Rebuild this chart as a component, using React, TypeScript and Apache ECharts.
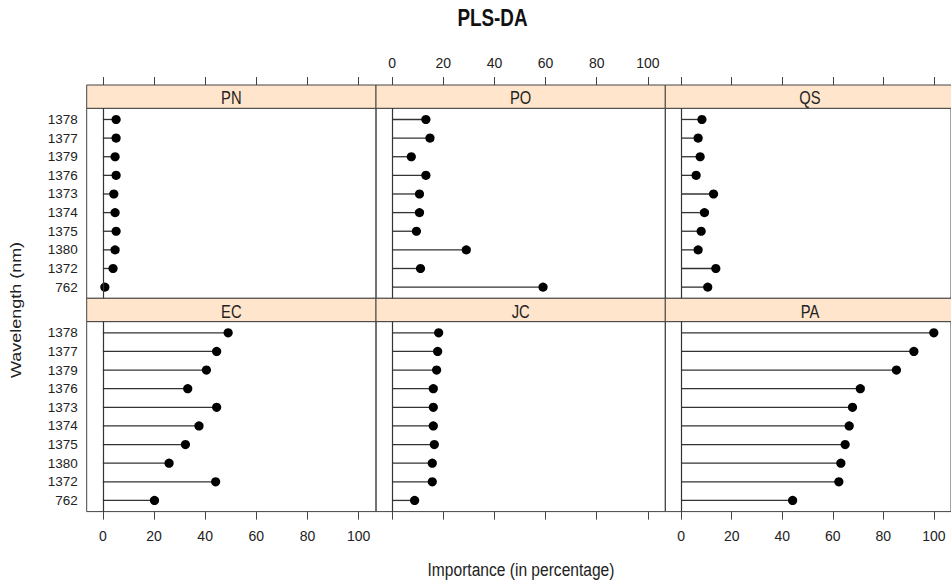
import React, { useEffect, useRef } from "react";
import * as echarts from "echarts";

// Wavelength categories, listed top to bottom as in each panel
const wavelengths = ["1378", "1377", "1379", "1376", "1373", "1374", "1375", "1380", "1372", "762"];

// Importance (%) per class, same order as wavelengths
const pnValues = [5.2, 5.2, 4.8, 5.2, 4.3, 4.8, 5.2, 4.8, 4.0, 0.8];
const poValues = [13.2, 14.8, 7.5, 13.2, 10.7, 10.7, 9.5, 29.0, 11.1, 59.0];
const qsValues = [8.2, 6.7, 7.5, 5.9, 12.8, 9.2, 7.9, 6.7, 13.7, 10.5];
const ecValues = [49.0, 44.5, 40.5, 33.2, 44.5, 37.6, 32.3, 25.9, 44.1, 20.2];
const jcValues = [18.2, 17.8, 17.4, 16.1, 16.1, 16.1, 16.5, 15.7, 15.7, 8.8];
const paValues = [100, 92.1, 85.2, 70.9, 67.8, 66.5, 64.9, 63.2, 62.4, 44.1];

const xTicks = [0, 20, 40, 60, 80, 100];
const yPositions = [1, 2, 3, 4, 5, 6, 7, 8, 9, 10];

const panels = [
  { name: "PN", values: pnValues, row: 0, col: 0 },
  { name: "PO", values: poValues, row: 0, col: 1 },
  { name: "QS", values: qsValues, row: 0, col: 2 },
  { name: "EC", values: ecValues, row: 1, col: 0 },
  { name: "JC", values: jcValues, row: 1, col: 1 },
  { name: "PA", values: paValues, row: 1, col: 2 },
];

const FONT = "'Liberation Sans', Arial, sans-serif";
const TEXT = "#222";
const BORDER = "#444";
const NARROW = 0.82;

const colLeft = [86.7, 376, 665.3];
const colWidth = 289.3;
const stripTop = [85, 298.3];
const stripH = 23.3;
const panelH = 190;

export default function App() {
  const ref = useRef<HTMLDivElement>(null);
  useEffect(() => {
    if (!ref.current) return;
    const chart = echarts.init(ref.current, undefined, { renderer: "svg" });

    const grids: any[] = [];
    const xAxes: any[] = [];
    const yAxes: any[] = [];
    const series: any[] = [];
    const graphics: any[] = [];

    panels.forEach((p, i) => {
      const left = colLeft[p.col];
      const top = stripTop[p.row] + stripH;
      grids.push({
        left,
        top,
        width: colWidth,
        height: panelH,
        show: true,
        borderColor: BORDER,
        borderWidth: 1,
        backgroundColor: "transparent",
        containLabel: false,
      });
      const isTop = p.row === 0;
      const showXLabel = isTop ? p.col === 1 : p.col !== 1;
      xAxes.push({
        type: "value",
        gridIndex: i,
        min: -6.3,
        max: 106.8,
        position: isTop ? "top" : "bottom",
        offset: isTop ? stripH : 0,
        axisLine: { show: false },
        splitLine: { show: false },
        axisTick: {
          show: true,
          length: 8,
          inside: false,
          customValues: xTicks,
          lineStyle: { color: BORDER, width: 1 },
        },
        axisLabel: {
          show: showXLabel,
          customValues: xTicks,
          margin: isTop ? 15 : 17,
          fontSize: 14,
          fontFamily: FONT,
          color: TEXT,
        },
      });
      yAxes.push({
        type: "value",
        gridIndex: i,
        min: 0.4,
        max: 10.6,
        axisLine: { show: false, onZero: false },
        axisTick: { show: false },
        splitLine: { show: false },
        axisLabel: {
          show: p.col === 0,
          customValues: yPositions,
          margin: 9,
          fontSize: 13.5,
          fontFamily: FONT,
          color: TEXT,
          formatter: (v: number) => wavelengths[10 - Math.round(v)],
        },
      });
      series.push({
        type: "custom",
        xAxisIndex: i,
        yAxisIndex: i,
        data: p.values.map((v, k) => [v, 10 - k]),
        encode: { x: 0, y: 1 },
        renderItem: (params: any, api: any) => {
          const v = api.value(0);
          const y = api.value(1);
          const p0 = api.coord([0, y]);
          const p1 = api.coord([v, y]);
          return {
            type: "group",
            children: [
              {
                type: "line",
                shape: { x1: p0[0], y1: p0[1], x2: p1[0], y2: p1[1] },
                style: { stroke: "#333", lineWidth: 1.3 },
              },
              {
                type: "circle",
                shape: { cx: p1[0], cy: p1[1], r: 4.6 },
                style: { fill: "#000" },
              },
            ],
          };
        },
        markLine: {
          silent: true,
          symbol: "none",
          label: { show: false },
          lineStyle: { color: "#333", type: "solid", width: 1.2 },
          data: [{ xAxis: 0 }],
        },
      });
      graphics.push({
        type: "rect",
        shape: { x: left, y: stripTop[p.row], width: colWidth, height: stripH },
        style: { fill: "#FFE5CC", stroke: BORDER, lineWidth: 1 },
        z: 1,
      });
      graphics.push({
        type: "text",
        x: left + colWidth / 2,
        y: stripTop[p.row] + stripH / 2 + 1,
        scaleX: NARROW,
        style: {
          text: p.name,
          fontSize: 18,
          fontFamily: FONT,
          fill: TEXT,
          align: "center",
          verticalAlign: "middle",
        },
        z: 2,
      });
    });

    graphics.push({
      type: "text",
      x: 492.5,
      y: 18,
      scaleX: NARROW,
      style: {
        text: "PLS-DA",
        fontSize: 23,
        fontWeight: "bold",
        fontFamily: FONT,
        fill: "#111",
        align: "center",
        verticalAlign: "middle",
      },
    });
    graphics.push({
      type: "text",
      x: 521,
      y: 569,
      scaleX: NARROW,
      style: {
        text: "Importance (in percentage)",
        fontSize: 19,
        fontFamily: FONT,
        fill: TEXT,
        align: "center",
        verticalAlign: "middle",
      },
    });
    graphics.push({
      type: "text",
      x: 16,
      y: 310,
      rotation: Math.PI / 2,
      scaleY: NARROW,
      style: {
        text: "Wavelength (nm)",
        fontSize: 18,
        fontFamily: FONT,
        fill: TEXT,
        align: "center",
        verticalAlign: "middle",
      },
    });

    chart.setOption({
      animation: false,
      backgroundColor: "#fff",
      grid: grids,
      xAxis: xAxes,
      yAxis: yAxes,
      series,
      graphic: graphics,
    });
    return () => chart.dispose();
  }, []);
  return (
    <div
      ref={ref}
      style={{ position: "fixed", left: 0, top: 0, width: 951, height: 584 }}
    />
  );
}
